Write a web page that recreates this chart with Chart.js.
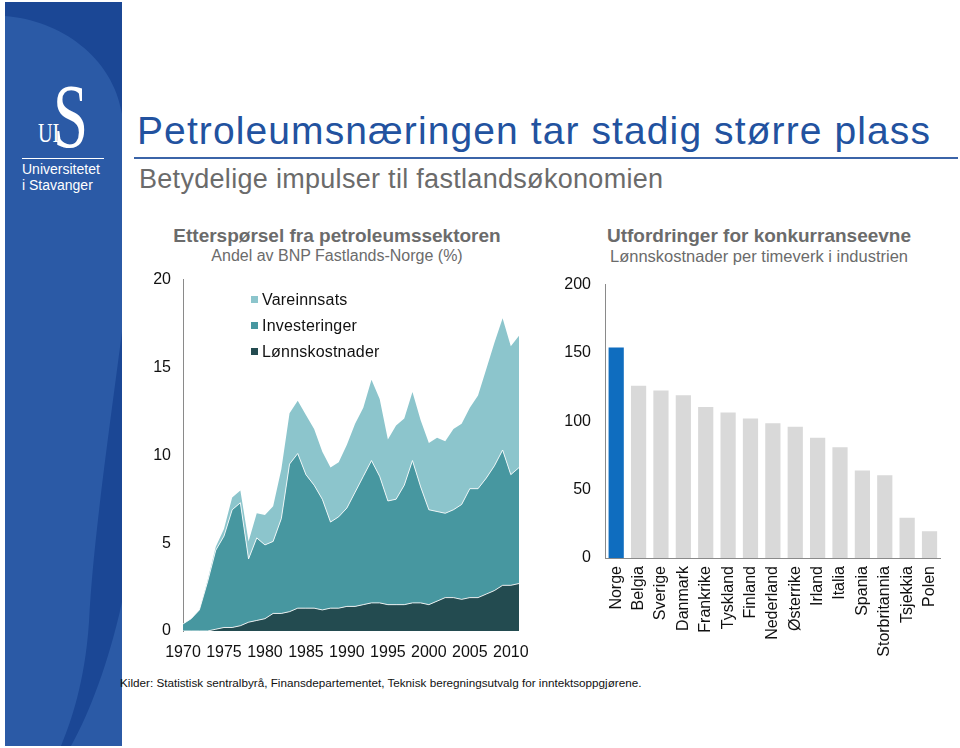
<!DOCTYPE html>
<html>
<head>
<meta charset="utf-8">
<script src="https://cdn.jsdelivr.net/npm/chart.js@4.4.1/dist/chart.umd.min.js"></script>
<style>
  body { margin: 0; width: 960px; height: 748px; position: relative; background: #fff; overflow: hidden;
         font-family: "Liberation Sans", Arial, sans-serif; }
  .abs { position: absolute; }
  #side { left: 5px; top: 2px; width: 117px; height: 744px; }
  .logoS { left: 53px; top: 72px; color: #fff; font-family: "Liberation Serif", serif; font-size: 90px;
           line-height: 90px; transform: scaleX(0.7); transform-origin: left top; }
  .logoUI { left: 38px; top: 120px; color: #fff; font-family: "Liberation Serif", serif; font-size: 27px;
            line-height: 27px; transform: scaleX(0.75); transform-origin: left top; }
  .logoLine { left: 22px; top: 158px; width: 82px; height: 1px; background: #fff; }
  .logoTxt { left: 22px; top: 161px; color: #fff; font-size: 14px; line-height: 16px; }
  #title { left: 137px; top: 109px; color: #22529f; font-size: 39px; letter-spacing: 1.1px; white-space: nowrap; }
  #rule { left: 134px; top: 157px; width: 824px; height: 2px; background: #3b64a8; }
  #sub { left: 139px; top: 164px; color: #6b6b6b; font-size: 27px; letter-spacing: 0.3px; white-space: nowrap; }
  .ctitle { color: #6b6b6b; font-weight: bold; font-size: 19px; text-align: center; white-space: nowrap; width: 400px; }
  .csub { color: #6b6b6b; font-size: 16px; text-align: center; white-space: nowrap; width: 400px; }
  .leg { left: 251px; font-size: 16px; letter-spacing: 0.2px; color: #111; white-space: nowrap; line-height: 18px; }
  .leg i { display: inline-block; width: 7px; height: 7px; margin-right: 4px; vertical-align: 2px; }
  #src { left: 120px; top: 676px; font-size: 11.7px; color: #111; white-space: nowrap; }
</style>
</head>
<body>
<svg id="side" class="abs" viewBox="0 0 117 744" width="117" height="744">
  <rect x="0" y="0" width="117" height="744" fill="#1b4795"/>
  <path d="M0,14 C55,18 108,55 117,112 L117,330 C104,430 88,540 84,620 C80,680 66,720 56,744 L0,744 Z" fill="#2b5aa6"/>
  <path d="M117,600 C104,660 84,712 66,744 L117,744 Z" fill="#2b5aa6"/>
</svg>
<div class="abs logoS">S</div>
<div class="abs logoUI">UI</div>
<div class="abs logoLine"></div>
<div class="abs logoTxt">Universitetet<br>i Stavanger</div>

<div id="title" class="abs">Petroleumsnæringen tar stadig større plass</div>
<div id="rule" class="abs"></div>
<div id="sub" class="abs">Betydelige impulser til fastlandsøkonomien</div>

<div class="abs ctitle" style="left:137px; top:225px;">Etterspørsel fra petroleumssektoren</div>
<div class="abs csub" style="left:137px; top:247px;">Andel av BNP Fastlands-Norge (%)</div>
<div class="abs ctitle" style="left:559px; top:225px;">Utfordringer for konkurranseevne</div>
<div class="abs csub" style="left:559px; top:247px; font-size:16.5px;">Lønnskostnader per timeverk i industrien</div>

<canvas id="areaChart" class="abs" style="left:140px; top:258px;" width="391" height="406"></canvas>
<canvas id="barChart" class="abs" style="left:555px; top:261px;" width="402" height="409"></canvas>

<div class="abs leg" style="top:291px;"><i style="background:#8cc5cc"></i>Vareinnsats</div>
<div class="abs leg" style="top:317px;"><i style="background:#4797a0"></i>Investeringer</div>
<div class="abs leg" style="top:343px;"><i style="background:#234b50"></i>Lønnskostnader</div>

<div id="src" class="abs">Kilder: Statistisk sentralbyrå, Finansdepartementet, Teknisk beregningsutvalg for inntektsoppgjørene.</div>

<script>
  // left chart: share of mainland GDP (%), 1970-2011
  const years = [];
  for (let y = 1970; y <= 2011; y++) years.push(String(y));

  const lonnskostnader = [0, 0, 0, 0, 0.1, 0.2, 0.2, 0.3, 0.5, 0.6, 0.7, 1.0, 1.0, 1.1, 1.3, 1.3, 1.3, 1.2, 1.3, 1.3,
    1.4, 1.4, 1.5, 1.6, 1.6, 1.5, 1.5, 1.5, 1.6, 1.6, 1.5, 1.7, 1.9, 1.9, 1.8, 1.9, 1.9, 2.1, 2.3, 2.6, 2.6, 2.7];
  const investeringer = [0.4, 0.7, 1.2, 2.8, 4.5, 5.2, 6.7, 7.0, 3.6, 4.7, 4.2, 4.1, 5.4, 8.4, 8.8, 7.6, 7.0, 6.3, 4.9, 5.2,
    5.6, 6.5, 7.3, 8.1, 7.2, 5.9, 6.0, 6.8, 8.1, 6.6, 5.4, 5.1, 4.8, 5.0, 5.4, 6.2, 6.2, 6.6, 7.1, 7.7, 6.3, 6.6];
  const vareinnsats = [0, 0, 0, 0.1, 0.2, 0.4, 0.7, 0.7, 1.0, 1.4, 1.7, 2.0, 2.8, 2.9, 3.0, 3.4, 3.2, 2.7, 3.1, 3.1,
    3.6, 3.9, 3.9, 4.6, 4.4, 3.5, 4.2, 3.8, 3.9, 3.8, 3.8, 4.2, 4.1, 4.6, 4.6, 4.6, 5.3, 6.2, 7.0, 7.5, 7.3, 7.5];

  // right chart: labour cost per hour in manufacturing
  const countries = ['Norge', 'Belgia', 'Sverige', 'Danmark', 'Frankrike', 'Tyskland', 'Finland', 'Nederland',
    'Østerrike', 'Irland', 'Italia', 'Spania', 'Storbritannia', 'Tsjekkia', 'Polen'];
  const lonnPerTime = [154, 126, 122.5, 119, 110.5, 106.5, 102, 98.5, 96, 88, 81, 64, 60.5, 29.5, 19.5];

  const family = '"Liberation Sans", Arial, sans-serif';
  const axisGray = '#8a8a8a';

  new Chart(document.getElementById('areaChart'), {
    type: 'line',
    data: {
      labels: years,
      datasets: [
        { label: 'Lønnskostnader', data: lonnskostnader, backgroundColor: '#234b50', borderColor: 'rgba(255,255,255,0.85)',
          borderWidth: 1, fill: 'origin' },
        { label: 'Investeringer', data: investeringer, backgroundColor: '#4797a0', borderColor: 'rgba(255,255,255,0.85)',
          borderWidth: 1, fill: '-1' },
        { label: 'Vareinnsats', data: vareinnsats, backgroundColor: '#8cc5cc', borderColor: '#8cc5cc',
          borderWidth: 0, fill: '-1' }
      ]
    },
    options: {
      responsive: false,
      animation: false,
      layout: { padding: { top: 8, right: 6 } },
      elements: { point: { radius: 0 }, line: { tension: 0 } },
      plugins: { legend: { display: false }, tooltip: { enabled: false } },
      scales: {
        x: {
          grid: { display: false, drawTicks: false },
          border: { display: false },
          ticks: {
            color: '#111', font: { family, size: 16 }, padding: 12, autoSkip: false, maxRotation: 0, minRotation: 0,
            callback: function (v, i) { return (1970 + i) % 5 === 0 ? years[i] : ''; }
          },
          afterFit: function (s) { s.height = 33; }
        },
        y: {
          stacked: true, min: 0, max: 20,
          grid: { display: false, drawTicks: false },
          border: { display: true, color: axisGray, width: 1 },
          ticks: { stepSize: 5, color: '#111', font: { family, size: 16 }, padding: 12 },
          afterFit: function (s) { s.width = 43; }
        }
      }
    }
  });

  new Chart(document.getElementById('barChart'), {
    type: 'bar',
    data: {
      labels: countries,
      datasets: [{
        data: lonnPerTime,
        backgroundColor: countries.map(c => c === 'Norge' ? '#0f6dbf' : '#d9d9d9'),
        barPercentage: 0.68,
        categoryPercentage: 1
      }]
    },
    options: {
      responsive: false,
      animation: false,
      layout: { padding: { top: 8, right: 8 } },
      plugins: { legend: { display: false }, tooltip: { enabled: false } },
      scales: {
        x: {
          grid: { display: false, drawTicks: false },
          border: { display: true, color: axisGray, width: 1 },
          ticks: { color: '#111', font: { family, size: 16 }, padding: 8, autoSkip: false,
                   maxRotation: 90, minRotation: 90 },
          afterFit: function (s) { s.height = 112; }
        },
        y: {
          min: 0, max: 200,
          grid: { display: false, drawTicks: false },
          border: { display: true, color: axisGray, width: 1 },
          ticks: { stepSize: 50, color: '#111', font: { family, size: 16 }, padding: 14 },
          afterFit: function (s) { s.width = 50; }
        }
      }
    }
  });
</script>
</body>
</html>
